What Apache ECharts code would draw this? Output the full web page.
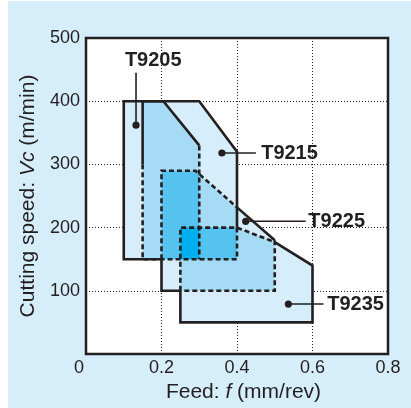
<!DOCTYPE html>
<html><head><meta charset="utf-8">
<script src="https://cdn.jsdelivr.net/npm/echarts@6/dist/echarts.min.js"></script>
<style>html,body{margin:0;padding:0;background:#fff;}#c{position:absolute;left:8px;top:1px;width:403px;height:407px;}</style>
</head><body><div id="c"></div>
<script>
// ---- data (feed mm/rev, cutting speed m/min) ----
const grades = ['T9205', 'T9215', 'T9225', 'T9235'];
const T9205 = [[0.1,150],[0.1,400],[0.205,400],[0.3,330],[0.3,150],[0.2,150]];
const T9215 = [[0.15,150],[0.15,300],[0.15,400],[0.3,400],[0.4,320],[0.4,200],[0.4,150]];
const T9225 = [[0.2,100],[0.2,150],[0.2,290],[0.29,290],[0.4,232],[0.5,180],[0.5,100],[0.25,100]];
const T9235 = [[0.25,50],[0.25,100],[0.25,200],[0.4,200],[0.5,177],[0.6,140],[0.6,50]];
// edge style per edge (vertex i -> i+1): s solid, d dashed, n none
const T9205Edges = ['s','s','s','d','n','s'];
const T9215Edges = ['d','s','s','s','s','d','d'];
const T9225Edges = ['s','d','d','d','s','d','d','s'];
const T9235Edges = ['s','d','d','d','s','s','s'];
const dotPos    = [[0.1325,362],[0.36,318],[0.423,210],[0.536,79]];
const leaderEnd = [[0.1325,445],[0.45,318],[0.582,210],[0.629,79]];
const labelPos  = [[0.103,465],[0.464,318],[0.589,210],[0.639,79]];
const xTicks = [0, 0.2, 0.4, 0.6, 0.8];
const yTicks = [0, 100, 200, 300, 400, 500];

const polys = [T9205, T9215, T9225, T9235];
const edges = [T9205Edges, T9215Edges, T9225Edges, T9235Edges];
const layerColors = ['#d6eefb', '#a6dbf5', '#55c2f0', '#00aeef'];
const ink = '#231f20';

// ---- convex polygon intersection (Sutherland–Hodgman) ----
function area(p){let a=0;for(let i=0;i<p.length;i++){const q=p[i],r=p[(i+1)%p.length];a+=q[0]*r[1]-r[0]*q[1];}return a;}
function clip(subject, clipPoly){
  const sgn = area(clipPoly) >= 0 ? 1 : -1;
  let out = subject.slice();
  for (let i=0;i<clipPoly.length && out.length;i++){
    const a=clipPoly[i], b=clipPoly[(i+1)%clipPoly.length];
    const inside = p => sgn*((b[0]-a[0])*(p[1]-a[1])-(b[1]-a[1])*(p[0]-a[0])) >= -1e-9;
    const inter = (p,q) => {
      const d1=(b[0]-a[0])*(p[1]-a[1])-(b[1]-a[1])*(p[0]-a[0]);
      const d2=(b[0]-a[0])*(q[1]-a[1])-(b[1]-a[1])*(q[0]-a[0]);
      const t=d1/(d1-d2); return [p[0]+t*(q[0]-p[0]), p[1]+t*(q[1]-p[1])];
    };
    const input=out; out=[];
    for (let j=0;j<input.length;j++){
      const cur=input[j], prev=input[(j+input.length-1)%input.length];
      if (inside(cur)){ if(!inside(prev)) out.push(inter(prev,cur)); out.push(cur); }
      else if (inside(prev)) out.push(inter(prev,cur));
    }
  }
  return out;
}
const regions = [];
for (let m=1; m<16; m++){
  let poly=null, k=0;
  for (let i=0;i<4;i++) if (m&(1<<i)){ k++; poly = poly ? clip(poly, polys[i]) : polys[i].slice(); }
  if (poly && poly.length>=3 && Math.abs(area(poly))>1e-6) regions.push({poly, k});
}
regions.sort((a,b)=>a.k-b.k);

// ---- outlines as polylines of same style ----
const outlines = [];
polys.forEach((p,pi)=>{
  const st = edges[pi], n = p.length;
  let start = 0;
  for (let i=0;i<n;i++){ if (st[i] !== st[(i+n-1)%n]) { start = i; break; } }
  let cur = null;
  for (let c=0;c<n;c++){
    const i=(start+c)%n, s=st[i];
    if (!cur || cur.s!==s){ if(cur) outlines.push(cur); cur={s, pts:[p[i]]}; }
    cur.pts.push(p[(i+1)%n]);
  }
  if (cur) outlines.push(cur);
});
const drawn = outlines.filter(o=>o.s!=='n');

const chart = echarts.init(document.getElementById('c'));
const font = '"Liberation Sans", Arial, Helvetica, sans-serif';
chart.setOption({
  backgroundColor: '#d6edfa',
  animation: false,
  grid: { left: 78, right: 23, top: 37, bottom: 54, show: true, backgroundColor: '#fff',
          borderColor: ink, borderWidth: 2.5, outerBoundsMode: 'none', containLabel: false },
  xAxis: {
    type: 'value', min: xTicks[0], max: xTicks[xTicks.length-1], interval: 0.2,
    axisLine: {show:false}, axisTick: {show:false},
    splitLine: {show:true, lineStyle:{color:ink, width:1, type:[1,2]}},
    axisLabel: { color: ink, fontSize: 18, fontFamily: font, margin: 5,
      formatter: v => v===0 ? '{o|0}' : String(+v.toFixed(1)),
      rich: { o: { color: ink, fontSize: 18, fontFamily: font, padding: [0,14,0,0] } } },
    name: 'Feed: {i|f} (mm/rev)', nameLocation: 'middle', nameGap: 28,
    nameTextStyle: { color: ink, fontSize: 21, fontFamily: font, padding: [0,0,0,13],
      rich: { i: { fontStyle: 'italic', color: ink, fontSize: 21, fontFamily: font } } }
  },
  yAxis: {
    type: 'value', min: yTicks[0], max: yTicks[yTicks.length-1], interval: 100,
    axisLine: {show:false}, axisTick: {show:false},
    splitLine: {show:true, lineStyle:{color:ink, width:1, type:[1,2]}},
    axisLabel: { color: ink, fontSize: 18, fontFamily: font, margin: 6,
      formatter: v => v===0 ? '' : String(v) },
    name: 'Cutting speed: {i|Vc} (m/min)', nameLocation: 'middle', nameGap: 43,
    nameTextStyle: { color: ink, fontSize: 21, fontFamily: font,
      rich: { i: { fontStyle: 'italic', color: ink, fontSize: 21, fontFamily: font } } }
  },
  series: [
    { type: 'custom', name: 'areas', z: 2, silent: true,
      data: regions.map(r=>[r.poly[0][0], r.poly[0][1]]),
      encode: {x:0, y:1},
      renderItem: (params, api) => {
        const r = regions[params.dataIndex];
        return { type:'polygon', shape:{points: r.poly.map(p=>api.coord(p))},
                 style:{ fill: layerColors[r.k-1], lineWidth: 0 } };
      } },
    { type: 'custom', name: 'outlines', z: 3, silent: true,
      data: drawn.map(o=>[o.pts[0][0], o.pts[0][1]]),
      encode: {x:0, y:1},
      renderItem: (params, api) => {
        const o = drawn[params.dataIndex];
        return { type:'polyline', shape:{points: o.pts.map(p=>api.coord(p))},
                 style:{ stroke: ink, fill: 'none', lineWidth: 2.6,
                         lineDash: o.s==='d' ? [5,3] : null, lineJoin:'miter', lineCap:'butt' } };
      } },
    { type: 'custom', name: 'labels', z: 4, silent: true,
      data: dotPos.map(p=>[p[0], p[1]]),
      encode: {x:0, y:1},
      renderItem: (params, api) => {
        const i = params.dataIndex;
        const d = api.coord(dotPos[i]), e = api.coord(leaderEnd[i]), l = api.coord(labelPos[i]);
        return { type:'group', children: [
          { type:'line', shape:{x1:d[0], y1:d[1], x2:e[0], y2:e[1]}, style:{stroke:ink, lineWidth:1.6} },
          { type:'circle', shape:{cx:d[0], cy:d[1], r:3.6}, style:{fill:ink} },
          { type:'text', style:{ text: grades[i], x: l[0], y: l[1], fill: ink,
              font: 'bold 20px ' + font, align:'left', verticalAlign:'middle',
              textAlign:'left', textVerticalAlign:'middle' } }
        ]};
      } }
  ]
});
</script></body></html>
